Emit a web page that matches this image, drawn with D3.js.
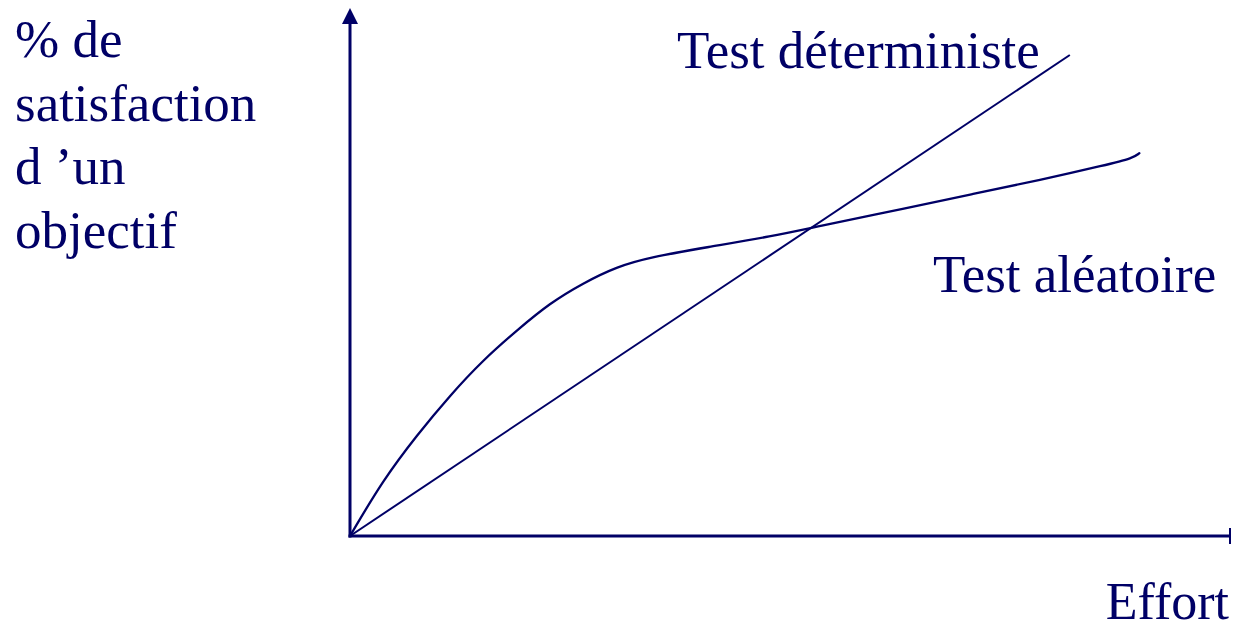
<!DOCTYPE html>
<html>
<head>
<meta charset="utf-8">
<script src="https://cdn.jsdelivr.net/npm/d3@7"></script>
<style>
  html, body { margin: 0; padding: 0; background: #fff; }
  svg { display: block; }
  text { font-family: "Liberation Serif", "Times New Roman", serif; fill: #000066; }
</style>
</head>
<body>
<svg id="chart" width="1233" height="631"></svg>
<script>
// effort (x) vs % satisfaction (y), both on a 0..100 scale
const deterministX = [0, 81.8];
const deterministY = [0, 91.1];

const aleatoireX = [0, 3.75, 7.6, 11.4, 15.1, 19.0, 22.7, 26.5, 30.3, 34.1, 40.6, 48.1, 52.8, 63.3, 70.8, 78.4, 86.0, 89.0, 89.7];
const aleatoireY = [0, 10.6, 19.1, 26.7, 33.3, 39.0, 44.1, 47.9, 51.0, 52.8, 54.7, 56.8, 58.5, 62.1, 64.8, 67.4, 70.3, 71.6, 72.5];

const yLabelLines = ['% de', 'satisfaction', 'd \u2019un', 'objectif'];
const xLabel = 'Effort';
const seriesLabels = ['Test déterministe', 'Test aléatoire'];

const INK = '#000066';

function drawChart() {
  const svg = d3.select('#chart');
  svg.selectAll('*').remove();

  const x = d3.scaleLinear().domain([0, 100]).range([350, 1230]);
  const y = d3.scaleLinear().domain([0, 100]).range([536, 8]);

  // axes
  svg.append('line')
    .attr('x1', x(0)).attr('x2', x(0))
    .attr('y1', y(0) + 1.5).attr('y2', y(100) + 14)
    .attr('stroke', INK).attr('stroke-width', 3);
  svg.append('path')
    .attr('d', `M${x(0)},${y(100)} L${x(0) + 8},${y(100) + 16} L${x(0) - 8},${y(100) + 16} Z`)
    .attr('fill', INK);

  svg.append('line')
    .attr('x1', x(0) - 1.5).attr('x2', x(100))
    .attr('y1', y(0)).attr('y2', y(0))
    .attr('stroke', INK).attr('stroke-width', 3);
  svg.append('line')
    .attr('x1', x(100)).attr('x2', x(100))
    .attr('y1', y(0) - 8).attr('y2', y(0) + 8)
    .attr('stroke', INK).attr('stroke-width', 2);

  // curves
  const line = d3.line()
    .x(d => x(d[0]))
    .y(d => y(d[1]));

  svg.append('path')
    .datum(d3.zip(deterministX, deterministY))
    .attr('fill', 'none')
    .attr('stroke', INK)
    .attr('stroke-width', 2)
    .attr('d', line);

  svg.append('path')
    .datum(d3.zip(aleatoireX, aleatoireY))
    .attr('fill', 'none')
    .attr('stroke', INK)
    .attr('stroke-width', 2.3)
    .attr('stroke-linecap', 'round')
    .attr('d', line.curve(d3.curveBasis));

  // labels
  const fs = 53;
  svg.selectAll('.ylab')
    .data(yLabelLines)
    .enter().append('text')
      .attr('class', 'ylab')
      .attr('x', 15)
      .attr('y', (d, i) => 57 + i * 63.7)
      .attr('font-size', fs)
      .text(d => d);

  svg.append('text')
    .attr('x', 677).attr('y', 68)
    .attr('font-size', fs)
    .text(seriesLabels[0]);

  svg.append('text')
    .attr('x', 933).attr('y', 292)
    .attr('font-size', fs)
    .text(seriesLabels[1]);

  svg.append('text')
    .attr('x', 1229).attr('y', 619)
    .attr('text-anchor', 'end')
    .attr('font-size', 52)
    .text(xLabel);
}

drawChart();
</script>
</body>
</html>
